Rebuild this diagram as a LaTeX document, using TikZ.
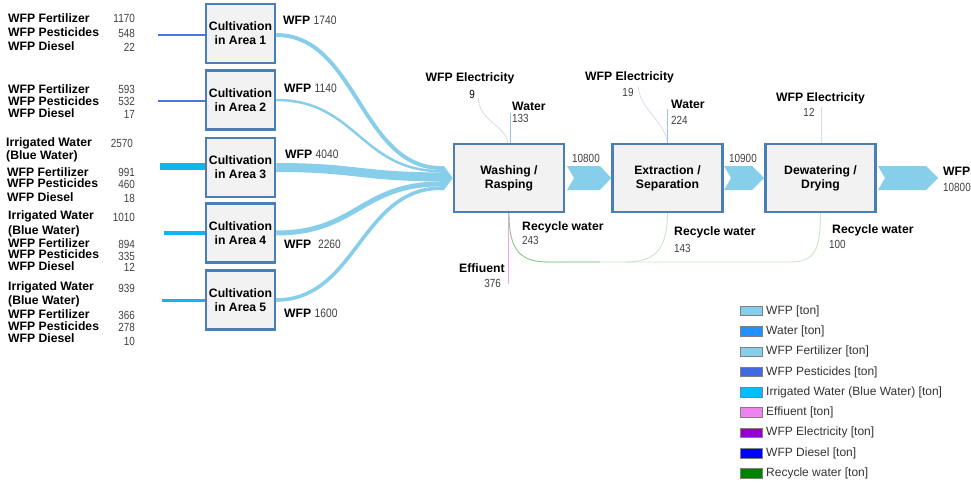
\documentclass[tikz,border=0pt]{standalone}
\usepackage{fontspec}
\setmainfont{Liberation Sans}
\usetikzlibrary{calc}
\definecolor{boxfill}{HTML}{F2F2F2}
\definecolor{boxline}{HTML}{4A7EB5}
\definecolor{flowc}{HTML}{87CEEB}
\definecolor{numgray}{HTML}{404040}
\definecolor{pestc}{HTML}{4A78E0}
\definecolor{irrc}{HTML}{10B4F0}
\definecolor{elecc}{HTML}{E2D4F0}
\definecolor{waterc}{HTML}{9DC3E6}
\definecolor{effc}{HTML}{F0A0F0}
\definecolor{recyc}{HTML}{86C886}
\definecolor{recyl}{HTML}{C8E6C8}
\definecolor{legtext}{HTML}{333333}
\newcommand\cnum[1]{\scalebox{0.84}[1]{#1}}
\begin{document}
\begin{tikzpicture}[x=1pt,y=-1pt,
  lbl/.style={font=\bfseries\fontsize{12.2}{13}\selectfont, inner sep=0, anchor=west},
  num/.style={font=\fontsize{11.8}{12}\selectfont, text=numgray, inner sep=0},
  proc/.style={draw=boxline, fill=boxfill, line width=2.5, inner sep=0, align=center,
    font=\bfseries\fontsize{12.2}{14}\selectfont},
  cult/.style={proc, minimum width=69, minimum height=59},
  big/.style={proc, minimum width=110, minimum height=68},
  flowline/.style={draw=flowc, line cap=butt},
  legbox/.style={draw=gray, line width=0.7, minimum width=22, minimum height=9.5, inner sep=0},
  legtxt/.style={font=\fontsize{12}{13}\selectfont, text=legtext, inner sep=0, anchor=west}
]
\useasboundingbox (0,0) rectangle (971,482);

% cultivation boxes
\node[cult] (c1) at (240.5,33.5) {Cultivation\\in Area 1};
\node[cult] (c2) at (240.5,100) {Cultivation\\in Area 2};
\node[cult] (c3) at (240.5,167.5) {Cultivation\\in Area 3};
\node[cult] (c4) at (240.5,233) {Cultivation\\in Area 4};
\node[cult] (c5) at (240.5,300) {Cultivation\\in Area 5};

% process boxes
\node[big] (wash) at (509,178) {Washing /\\Rasping};
\node[big] (extr) at (667.5,178) {Extraction /\\Separation};
\node[big] (dewa) at (820.5,178) {Dewatering /\\Drying};

% input lines on the left
\coordinate (i1) at (158,35);
\coordinate (i2) at (158,101);
\coordinate (i3) at (160,166);
\coordinate (i4) at (164,233);
\coordinate (i5) at (162,300);
\draw[pestc, line width=2.5] (i1) -- (i1 -| c1.west);
\draw[pestc, line width=1.8] (i2) -- (i2 -| c2.west);
\draw[irrc, line width=7] (i3) -- (i3 -| c3.west);
\draw[irrc, line width=3.5] (i4) -- (i4 -| c4.west);
\draw[irrc, line width=3] (i5) -- (i5 -| c5.west);

% left labels
\node[lbl] (l1a) at (8,18) {WFP Fertilizer};
\node[lbl] (l1b) at (8,32.5) {WFP Pesticides};
\node[lbl] (l1c) at (8,46) {WFP Diesel};
\node[num, anchor=east] (n1a) at (135,18.5) {\cnum{1170}};
\node[num, anchor=east] (n1b) at (135,33) {\cnum{548}};
\node[num, anchor=east] (n1c) at (135,47) {\cnum{22}};

\node[lbl] (l2a) at (8,89) {WFP Fertilizer};
\node[lbl] (l2b) at (8,101) {WFP Pesticides};
\node[lbl] (l2c) at (8,113) {WFP Diesel};
\node[num, anchor=east] (n2a) at (135,89) {\cnum{593}};
\node[num, anchor=east] (n2b) at (135,101) {\cnum{532}};
\node[num, anchor=east] (n2c) at (135,114) {\cnum{17}};

\node[lbl] (l3a) at (6,143) {Irrigated Water};
\node[lbl] (l3b) at (6,156) {(Blue Water)};
\node[lbl] (l3c) at (7,172) {WFP Fertilizer};
\node[lbl] (l3d) at (7,183) {WFP Pesticides};
\node[lbl] (l3e) at (7,197) {WFP Diesel};
\node[num, anchor=east] (n3a) at (133,143) {\cnum{2570}};
\node[num, anchor=east] (n3b) at (135,172.5) {\cnum{991}};
\node[num, anchor=east] (n3c) at (135,184.5) {\cnum{460}};
\node[num, anchor=east] (n3d) at (135,198) {\cnum{18}};

\node[lbl] (l4a) at (8,216) {Irrigated Water};
\node[lbl] (l4b) at (8,231) {(Blue Water)};
\node[lbl] (l4c) at (8,243) {WFP Fertilizer};
\node[lbl] (l4d) at (8,254) {WFP Pesticides};
\node[lbl] (l4e) at (8,266) {WFP Diesel};
\node[num, anchor=east] (n4a) at (135,217) {\cnum{1010}};
\node[num, anchor=east] (n4b) at (135,244.5) {\cnum{894}};
\node[num, anchor=east] (n4c) at (135,256) {\cnum{335}};
\node[num, anchor=east] (n4d) at (135,267.5) {\cnum{12}};

\node[lbl] (l5a) at (8,287) {Irrigated Water};
\node[lbl] (l5b) at (8,301) {(Blue Water)};
\node[lbl] (l5c) at (8,314) {WFP Fertilizer};
\node[lbl] (l5d) at (8,326) {WFP Pesticides};
\node[lbl] (l5e) at (8,338) {WFP Diesel};
\node[num, anchor=east] (n5a) at (135,288) {\cnum{939}};
\node[num, anchor=east] (n5b) at (135,315.5) {\cnum{366}};
\node[num, anchor=east] (n5c) at (135,327.5) {\cnum{278}};
\node[num, anchor=east] (n5d) at (135,341) {\cnum{10}};

% sankey flows to washing
\coordinate (m1) at (441,168);
\coordinate (m2) at (441,171.1);
\coordinate (m3) at (441,176.9);
\coordinate (m4) at (441,183.9);
\coordinate (m5) at (441,188.2);
\draw[flowline, line width=3.9] ($(c1.east)+(0,1.5)$) .. controls +(80,0) and +(-80,0) .. (m1);
\draw[flowline, line width=2.5] (c2.east) .. controls +(80,0) and +(-80,0) .. (m2);
\draw[flowline, line width=9] (c3.east) .. controls +(80,0) and +(-80,0) .. (m3);
\draw[flowline, line width=5] (c4.east) .. controls +(80,0) and +(-80,0) .. (m4);
\draw[flowline, line width=3.6] (c5.east) .. controls +(80,0) and +(-80,0) .. (m5);
\fill[flowc] (440,166) -- (444,166) -- (wash.west) -- (444,190) -- (440,190) -- cycle;

% chevrons
\fill[flowc] (567,166) -- (600,166) -- (extr.west) -- (600,190) -- (567,190) -- (574,178) -- cycle;
\fill[flowc] (724,166) -- (752,166) -- (dewa.west) -- (752,190) -- (724,190) -- (731,178) -- cycle;
\coordinate (out) at (938,178);
\fill[flowc] (878,166) -- (926,166) -- (out) -- (926,190) -- (878,190) -- (885,178) -- cycle;

% flow labels
\node[lbl] (w1) at (283,20) {WFP \mdseries\color{numgray}\cnum{1740}};
\node[lbl] (w2) at (284,88) {WFP \mdseries\color{numgray}\cnum{1140}};
\node[lbl] (w3) at (285,154) {WFP \mdseries\color{numgray}\cnum{4040}};
\node[lbl] (w4) at (284,244) {WFP \ \mdseries\color{numgray}\cnum{2260}};
\node[lbl] (w5) at (284,313) {WFP \mdseries\color{numgray}\cnum{1600}};
\node[num, anchor=west] (f1) at (572,158) {\cnum{10800}};
\node[num, anchor=west] (f2) at (729,158) {\cnum{10900}};
\node[lbl] (fo) at (943,171) {WFP};
\node[num, anchor=west] (fon) at (943,187) {\cnum{10800}};

% top inputs
\coordinate (e1) at (478,98);
\coordinate (wa1) at (510,113);
\draw[elecc, line width=0.8] (e1) .. controls (480,122) and (505,125) .. ($(wash.north)+(-1,0)$);
\draw[waterc, line width=0.8] (wa1) -- (wa1 |- wash.north);
\node[lbl, anchor=center] (te1) at (470,78) {WFP Electricity};
\node[num, anchor=center, text=black] (te1n) at (472,94) {\cnum{9}};
\node[lbl] (tw1) at (512,106) {Water};
\node[num, anchor=west] (tw1n) at (512,118) {\cnum{133}};

\coordinate (e2) at (638,86);
\coordinate (wa2) at (667,109);
\draw[elecc, line width=0.8] (e2) .. controls (640,110) and (664,120) .. (extr.north);
\draw[waterc, line width=0.8] (wa2) -- (wa2 |- extr.north);
\node[lbl, anchor=center] (te2) at (629.5,77) {WFP Electricity};
\node[num, anchor=center] (te2n) at (628,92) {\cnum{19}};
\node[lbl] (tw2) at (671,104) {Water};
\node[num, anchor=west] (tw2n) at (671,120) {\cnum{224}};

\coordinate (e3) at (821,107);
\draw[elecc, line width=0.8] (e3) -- (e3 |- dewa.north);
\node[lbl, anchor=center] (te3) at (820.5,98) {WFP Electricity};
\node[num, anchor=center] (te3n) at (809,112) {\cnum{12}};

% bottom outputs
\coordinate (eff) at (508,284);
\draw[effc, line width=1] ($(wash.south)+(-1,0)$) -- (eff);
\node[lbl] (tef) at (459,268) {Effiuent};
\node[num, anchor=east] (tefn) at (501,283) {\cnum{376}};

\draw[recyl, line width=0.9] (extr.south) .. controls (667,250) and (655,262) .. (625,262);
\draw[recyl, line width=0.9] (545,262) -- (790,262) .. controls (815,262) and (820.5,250) .. (dewa.south);
\draw[recyc, line width=0.9] (wash.south) .. controls (509,250) and (520,262) .. (548,262) -- (600,262);

\node[lbl] (r1) at (522,227) {Recycle water};
\node[num, anchor=west] (r1n) at (522,240) {\cnum{243}};
\node[lbl] (r2) at (674,232) {Recycle water};
\node[num, anchor=west] (r2n) at (674,248) {\cnum{143}};
\node[lbl] (r3) at (832,230) {Recycle water};
\node[num, anchor=west] (r3n) at (829,244) {\cnum{100}};

% legend
\foreach \c/\t [count=\i from 0] in {87CEEB/WFP [ton], 1E90FF/Water [ton], 87CEEB/WFP Fertilizer [ton],
  4169E1/WFP Pesticides [ton], 00BFFF/Irrigated Water (Blue Water) [ton], EE82EE/Effiuent [ton],
  9400D3/WFP Electricity [ton], 0000FF/WFP Diesel [ton], 008000/Recycle water [ton]} {
  \definecolor{lc}{HTML}{\c}
  \node[legbox, fill=lc] (lb\i) at (751,311+20.3*\i) {};
  \node[legtxt] (lt\i) at (766,311+20.3*\i) {\t};
}
\end{tikzpicture}
\end{document}
